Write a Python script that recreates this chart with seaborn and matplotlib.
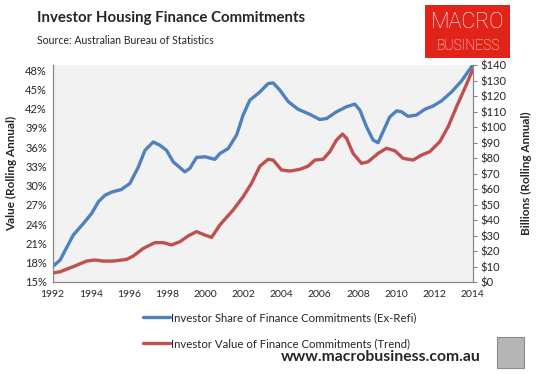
import pandas as pd
import matplotlib
matplotlib.use("Agg")
import matplotlib.pyplot as plt
import matplotlib.ticker as ticker
from matplotlib.patches import Rectangle
from matplotlib.lines import Line2D
import seaborn as sns

sns.set_style('white')
plt.rcParams['font.family'] = ['Lato', 'DejaVu Sans']

# investor share of finance commitments (ex-refi), % - left axis
share_year = [1992.0, 1992.39, 1993.08, 1993.61, 1994.05, 1994.4, 1994.74, 1995.09, 1995.6,
              1996.05, 1996.49, 1996.84, 1997.27, 1997.62, 1997.97, 1998.32, 1998.93,
              1999.19, 1999.54, 1999.98, 2000.5, 2000.76, 2001.2, 2001.64, 2001.98,
              2002.33, 2002.86, 2003.29, 2003.55, 2003.9, 2004.34, 2004.86, 2005.48,
              2006.0, 2006.35, 2006.87, 2007.4, 2007.83, 2008.1, 2008.44, 2008.79,
              2009.05, 2009.31, 2009.66, 2010.02, 2010.28, 2010.62, 2011.06, 2011.5,
              2011.93, 2012.37, 2012.9, 2013.42, 2014.0]
share_pct = [17.4, 18.4, 22.3, 24.1, 25.7, 27.5, 28.5, 29.0, 29.4,
             30.35, 32.9, 35.5, 36.8, 36.3, 35.5, 33.7, 32.15,
             32.7, 34.4, 34.5, 34.1, 35.0, 35.8, 37.9, 41.0,
             43.3, 44.6, 45.9, 46.0, 44.9, 43.1, 41.9, 41.1,
             40.3, 40.45, 41.5, 42.3, 42.7, 41.75, 39.2, 37.1,
             36.7, 38.4, 40.7, 41.65, 41.5, 40.8, 41.0, 41.9,
             42.4, 43.2, 44.6, 46.3, 48.75]

# investor value of finance commitments (trend), $bn - right axis
value_year = [1992.0, 1992.39, 1993.08, 1993.78, 1994.22, 1994.65, 1995.18, 1995.88, 1996.23,
              1996.75, 1997.36, 1997.8, 1998.23, 1998.67, 1999.1, 1999.54, 1999.98,
              2000.33, 2000.76, 2001.46, 2001.98, 2002.42, 2002.86, 2003.29, 2003.55,
              2003.99, 2004.43, 2004.95, 2005.39, 2005.74, 2006.17, 2006.52, 2006.87,
              2007.19, 2007.4, 2007.74, 2008.18, 2008.53, 2009.05, 2009.49, 2009.93,
              2010.36, 2010.89, 2011.32, 2011.76, 2012.28, 2012.72, 2013.16, 2013.59, 2014.0]
value_bn = [5.8, 6.6, 9.9, 13.5, 14.2, 13.5, 13.5, 14.6, 16.8,
            21.7, 25.4, 25.4, 23.9, 26.0, 29.7, 32.5, 30.3,
            28.8, 36.8, 46.5, 55.0, 63.7, 74.8, 79.2, 78.7,
            72.3, 71.6, 72.7, 74.8, 78.7, 79.2, 84.1, 91.6,
            95.5, 92.7, 83.0, 76.6, 77.6, 83.0, 86.3, 84.7,
            79.8, 78.7, 81.9, 84.1, 90.5, 100.2, 113.1, 125.0, 136.8]

year_ticks = list(range(1992, 2015, 2))
share_label = 'Investor Share of Finance Commitments (Ex-Refi)'
value_label = 'Investor Value of Finance Commitments (Trend)'

blue = '#4F81BD'
red = '#C0504D'

share_df = pd.DataFrame({'Year': share_year, 'Share': share_pct})
value_df = pd.DataFrame({'Year': value_year, 'Value': value_bn})

fig = plt.figure(figsize=(5.44, 3.74), dpi=100)
ax = fig.add_axes([0.0967, 0.246, 0.772, 0.580])
ax.set_facecolor('#F2F2F2')
ax2 = ax.twinx()

sns.lineplot(data=share_df, x='Year', y='Share', ax=ax, color=blue, linewidth=2.4)
sns.lineplot(data=value_df, x='Year', y='Value', ax=ax2, color=red, linewidth=2.4)
ax.set_zorder(1)
ax.patch.set_visible(True)
ax2.set_zorder(2)

ax.set_xlim(1992, 2014)
ax.set_ylim(15, 48.78)
ax2.set_ylim(0, 140)

ax.set_xticks(year_ticks)
ax.set_yticks(range(15, 49, 3))
ax2.set_yticks(range(0, 141, 10))
ax.yaxis.set_major_formatter(ticker.FuncFormatter(lambda v, p: '%d%%' % v))
ax2.yaxis.set_major_formatter(ticker.FuncFormatter(lambda v, p: '$%d' % v))

for a in (ax, ax2):
    for s in a.spines.values():
        s.set_color('#868686')
        s.set_linewidth(0.8)
    a.spines['top'].set_visible(False)
ax.tick_params(axis='x', direction='in', length=4, color='#868686', labelsize=7.5, pad=6)
ax.tick_params(axis='y', length=0, labelsize=8, pad=4)
ax2.tick_params(axis='y', direction='out', length=3, color='#868686', labelsize=8, pad=3)

ax.set_xlabel('')
ax.set_ylabel('Value (Rolling Annual)', fontsize=8.5, fontweight='bold', labelpad=6)
ax2.set_ylabel('Billions (Rolling Annual)', fontsize=8.5, fontweight='bold', labelpad=10)

# legend
handles = [Line2D([], [], color=blue, linewidth=2.4),
           Line2D([], [], color=red, linewidth=2.4)]
fig.legend(handles, [share_label, value_label], loc='center left',
           bbox_to_anchor=(0.244, 0.116), frameon=False, fontsize=8.2,
           handlelength=2.4, handletextpad=0.1, labelspacing=1.3)

# header
fig.text(0.068, 0.952, 'Investor Housing Finance Commitments', fontsize=10.8,
         fontweight='bold', va='center')
fig.text(0.068, 0.893, 'Source: Australian Bureau of Statistics', fontsize=7.6, va='center')

# logo box
fig.patches.append(Rectangle((0.782, 0.845), 0.156, 0.142, transform=fig.transFigure,
                             facecolor='#E2231A', edgecolor='none'))
fig.text(0.860, 0.940, 'MACRO', color='white', fontsize=15.5, ha='center', va='center',
         fontweight='light', family=['Roboto', 'DejaVu Sans'])
fig.text(0.860, 0.878, 'BUSINESS', color='white', fontsize=10, ha='center', va='center',
         fontweight='light', family=['Roboto', 'DejaVu Sans'])

# footer
fig.text(0.883, 0.046, 'www.macrobusiness.com.au', fontsize=11.3, fontweight='bold',
         ha='right', va='center')
fig.patches.append(Rectangle((0.913, 0.016), 0.050, 0.083, transform=fig.transFigure,
                             facecolor='#B5B5B5', edgecolor='#8A8A8A', linewidth=0.8))

fig.savefig('out.png', dpi=100)
